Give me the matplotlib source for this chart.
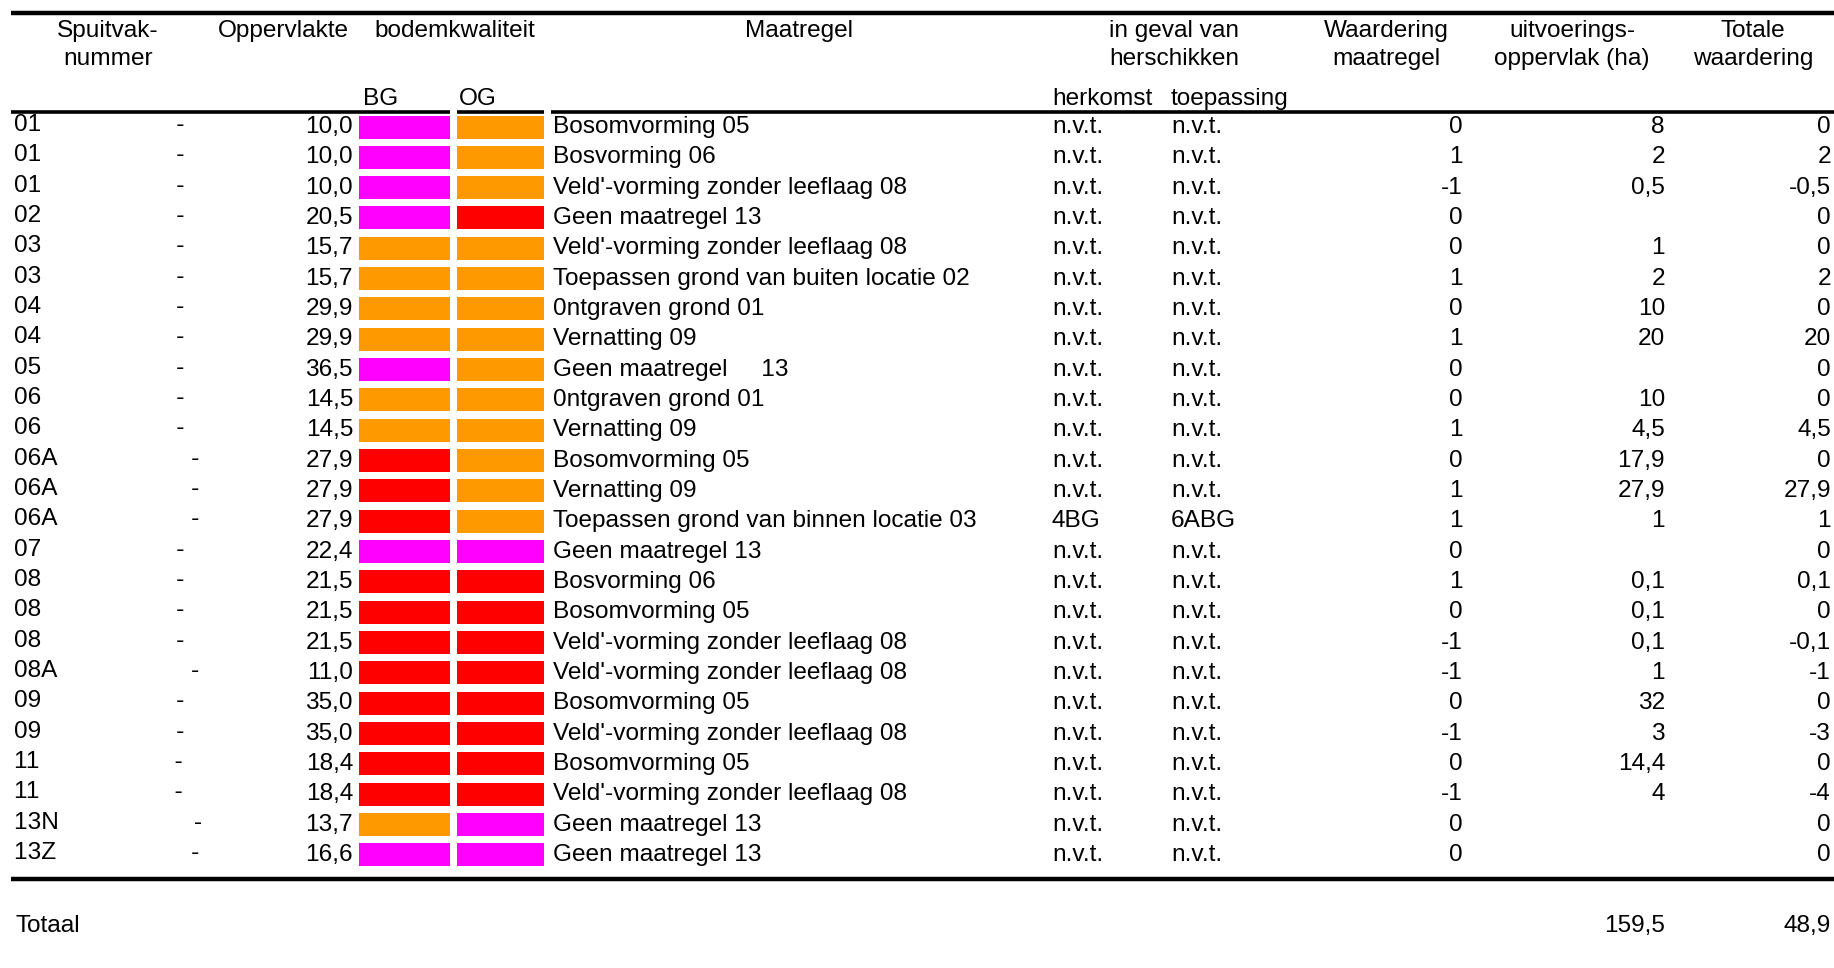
import matplotlib
matplotlib.use("Agg")
import matplotlib.pyplot as plt

plt.rcParams['font.family'] = ['Liberation Sans', 'DejaVu Sans']

# table data
spuitvak = ['01', '01', '01', '02', '03', '03', '04', '04', '05', '06', '06',
            '06A', '06A', '06A', '07', '08', '08', '08', '08A', '09', '09',
            '11', '11', '13N', '13Z']
oppervlakte = ['10,0', '10,0', '10,0', '20,5', '15,7', '15,7', '29,9', '29,9',
               '36,5', '14,5', '14,5', '27,9', '27,9', '27,9', '22,4', '21,5',
               '21,5', '21,5', '11,0', '35,0', '35,0', '18,4', '18,4', '13,7',
               '16,6']
bg_kwal = ['M', 'M', 'M', 'M', 'O', 'O', 'O', 'O', 'M', 'O', 'O', 'R', 'R',
           'R', 'M', 'R', 'R', 'R', 'R', 'R', 'R', 'R', 'R', 'O', 'M']
og_kwal = ['O', 'O', 'O', 'R', 'O', 'O', 'O', 'O', 'O', 'O', 'O', 'O', 'O',
           'O', 'M', 'R', 'R', 'R', 'R', 'R', 'R', 'R', 'R', 'M', 'M']
maatregel = ['Bosomvorming 05', 'Bosvorming 06',
             "Veld'-vorming zonder leeflaag 08", 'Geen maatregel 13',
             "Veld'-vorming zonder leeflaag 08",
             'Toepassen grond van buiten locatie 02', '0ntgraven grond 01',
             'Vernatting 09', 'Geen maatregel     13', '0ntgraven grond 01',
             'Vernatting 09', 'Bosomvorming 05', 'Vernatting 09',
             'Toepassen grond van binnen locatie 03', 'Geen maatregel 13',
             'Bosvorming 06', 'Bosomvorming 05',
             "Veld'-vorming zonder leeflaag 08",
             "Veld'-vorming zonder leeflaag 08", 'Bosomvorming 05',
             "Veld'-vorming zonder leeflaag 08", 'Bosomvorming 05',
             "Veld'-vorming zonder leeflaag 08", 'Geen maatregel 13',
             'Geen maatregel 13']
herkomst = ['n.v.t.'] * 13 + ['4BG'] + ['n.v.t.'] * 11
toepassing = ['n.v.t.'] * 13 + ['6ABG'] + ['n.v.t.'] * 11
waardering = ['0', '1', '-1', '0', '0', '1', '0', '1', '0', '0', '1', '0', '1',
              '1', '0', '1', '0', '-1', '-1', '0', '-1', '0', '-1', '0', '0']
uitvoering = ['8', '2', '0,5', '', '1', '2', '10', '20', '', '10', '4,5',
              '17,9', '27,9', '1', '', '0,1', '0,1', '0,1', '1', '32', '3',
              '14,4', '4', '', '']
totale = ['0', '2', '-0,5', '0', '0', '2', '0', '20', '0', '0', '4,5', '0',
          '27,9', '1', '0', '0,1', '0', '-0,1', '-1', '0', '-3', '0', '-4',
          '0', '0']
totaal_uitvoering = '159,5'
totaal_waardering = '48,9'

kleuren = {'M': '#ff00ff', 'O': '#ff9900', 'R': '#ff0000'}

W, H = 1834, 968
fig = plt.figure(figsize=(W / 100, H / 100), dpi=100)
ax = fig.add_axes([0, 0, 1, 1])
ax.set_xlim(0, W)
ax.set_ylim(H, 0)
ax.axis('off')

fs = 17.6
row0, dy = 127, 30.33
rows = [row0 + i * dy for i in range(len(spuitvak))]

# header lines
ax.plot([11, W], [13, 13], color='black', lw=3.2, solid_capstyle='butt')
for x0, x1 in [(11, 450), (457, 544), (551, W)]:
    ax.plot([x0, x1], [112, 112], color='black', lw=2.6, solid_capstyle='butt')
ax.plot([11, W], [879, 879], color='black', lw=3.2, solid_capstyle='butt')

koppen = [(108, ['Spuitvak-', 'nummer']), (283, ['Oppervlakte']),
          (455, ['bodemkwaliteit']), (799, ['Maatregel']),
          (1174, ['in geval van', 'herschikken']),
          (1386, ['Waardering', 'maatregel']),
          (1572, ['uitvoerings-', 'oppervlak (ha)']),
          (1753, ['Totale', 'waardering'])]
for x, regels in koppen:
    for j, t in enumerate(regels):
        ax.text(x, 37 + 28 * j, t, ha='center', va='baseline', fontsize=fs)
for x, t in [(363, 'BG'), (459, 'OG'), (1052, 'herkomst'), (1171, 'toepassing')]:
    ax.text(x, 105, t, ha='left', va='baseline', fontsize=fs)

# coloured quality cells
ax.barh(rows, 91, left=359, height=23,
        color=[kleuren[k] for k in bg_kwal])
ax.barh(rows, 87, left=457, height=23,
        color=[kleuren[k] for k in og_kwal])

for i, y in enumerate(rows):
    yb = y + 6
    ax.text(14, yb - 2, spuitvak[i] + ' ' * 19 + ' -', ha='left',
            va='baseline', fontsize=fs)
    ax.text(353, yb, oppervlakte[i], ha='right', va='baseline', fontsize=fs)
    ax.text(553, yb, maatregel[i], ha='left', va='baseline', fontsize=fs)
    ax.text(1052, yb, herkomst[i], ha='left', va='baseline', fontsize=fs)
    ax.text(1171, yb, toepassing[i], ha='left', va='baseline', fontsize=fs)
    ax.text(1463, yb, waardering[i], ha='right', va='baseline', fontsize=fs)
    ax.text(1665, yb, uitvoering[i], ha='right', va='baseline', fontsize=fs)
    ax.text(1831, yb, totale[i], ha='right', va='baseline', fontsize=fs)

ax.text(15, 932, 'Totaal', ha='left', va='baseline', fontsize=fs)
ax.text(1665, 932, totaal_uitvoering, ha='right', va='baseline', fontsize=fs)
ax.text(1831, 932, totaal_waardering, ha='right', va='baseline', fontsize=fs)

fig.savefig('out.png', dpi=100, facecolor='white')
